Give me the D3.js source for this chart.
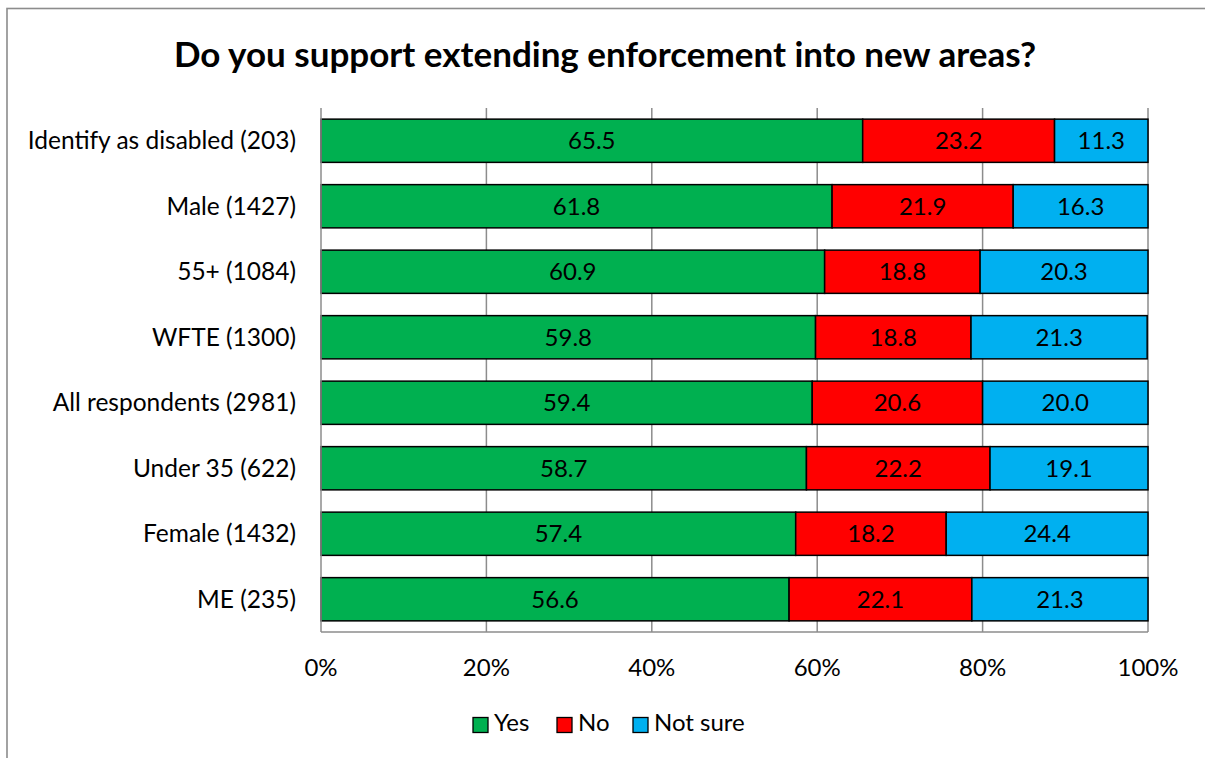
<!DOCTYPE html>
<html><head><meta charset="utf-8">
<script src="https://cdn.jsdelivr.net/npm/d3@7"></script>
<style>body{margin:0;background:#fff;} svg{display:block;font-family:Lato,"Open Sans",sans-serif;}</style>
</head><body>
<svg id="c" width="1205" height="758"></svg>
<script>
const categories = ["Identify as disabled (203)","Male (1427)","55+ (1084)","WFTE (1300)","All respondents (2981)","Under 35 (622)","Female (1432)","ME (235)"];
const seriesNames = ["Yes","No","Not sure"];
const yesVals = [65.5,61.8,60.9,59.8,59.4,58.7,57.4,56.6];
const noVals = [23.2,21.9,18.8,18.8,20.6,22.2,18.2,22.1];
const notSureVals = [11.3,16.3,20.3,21.3,20.0,19.1,24.4,21.3];
const colors = ["#00B050","#FF0000","#00B0F0"];
const xTicks = [0,20,40,60,80,100];
const title = "Do you support extending enforcement into new areas?";

const svg = d3.select("#c");
svg.append("rect").attr("x",7).attr("y",8.5).attr("width",1220).attr("height",780)
  .attr("fill","#fff").attr("stroke","#8c8c8c").attr("stroke-width",1.6);

const x = d3.scaleLinear().domain([0,100]).range([321,1148]);
const y = d3.scaleBand().domain(categories).range([108,632]).paddingInner(0.34).paddingOuter(0.17);

// gridlines
svg.append("g").selectAll("line").data(xTicks.slice(1)).join("line")
  .attr("x1",d=>x(d)).attr("x2",d=>x(d)).attr("y1",108).attr("y2",632)
  .attr("stroke","#8c8c8c").attr("stroke-width",1.5);

const rows = categories.map((c,i)=>({cat:c, vals:[yesVals[i],noVals[i],notSureVals[i]]}));
const stackData = rows.map(r=>{let s=0; return r.vals.map((v,k)=>{const o={cat:r.cat,k,v,x0:s,x1:s+v}; s+=v; return o;});}).flat();

const seg = svg.append("g").selectAll("g").data(stackData).join("g");
seg.append("rect")
  .attr("x",d=>x(d.x0)).attr("y",d=>y(d.cat))
  .attr("width",d=>x(d.x1)-x(d.x0)).attr("height",y.bandwidth())
  .attr("fill",d=>colors[d.k]).attr("stroke","#000").attr("stroke-width",1.5);
seg.append("text")
  .attr("x",d=>(x(d.x0)+x(d.x1))/2).attr("y",d=>y(d.cat)+y.bandwidth()/2)
  .attr("dy","0.35em").attr("text-anchor","middle").attr("font-size",24).attr("fill","#000")
  .text(d=>d.v.toFixed(1));

// axes lines
svg.append("line").attr("x1",321).attr("x2",321).attr("y1",108).attr("y2",632).attr("stroke","#8c8c8c").attr("stroke-width",1.5);
svg.append("line").attr("x1",321).attr("x2",1148).attr("y1",632).attr("y2",632).attr("stroke","#8c8c8c").attr("stroke-width",1.5);

// category labels
svg.append("g").selectAll("text").data(categories).join("text")
  .attr("x",296).attr("y",d=>y(d)+y.bandwidth()/2).attr("dy","0.35em")
  .attr("text-anchor","end").attr("font-size",24.5).attr("fill","#000").text(d=>d);

// x tick labels
svg.append("g").selectAll("text").data(xTicks).join("text")
  .attr("x",d=>x(d)).attr("y",668).attr("dy","0.35em")
  .attr("text-anchor","middle").attr("font-size",24).attr("fill","#000").text(d=>d+"%");

// title
svg.append("text").attr("x",605).attr("y",55).attr("dy","0.35em").attr("text-anchor","middle")
  .attr("font-size",35).attr("font-weight","bold").attr("fill","#000").text(title);

// legend
const legX = [473,557,633];
const leg = svg.append("g").selectAll("g").data(seriesNames).join("g")
  .attr("transform",(d,i)=>`translate(${legX[i]},725)`);
leg.append("rect").attr("x",0).attr("y",-7.5).attr("width",15).attr("height",15)
  .attr("fill",(d,i)=>colors[i]).attr("stroke","#000").attr("stroke-width",1.3);
leg.append("text").attr("x",21).attr("y",-2).attr("dy","0.35em").attr("font-size",24).attr("fill","#000").text(d=>d);
</script>
</body></html>
